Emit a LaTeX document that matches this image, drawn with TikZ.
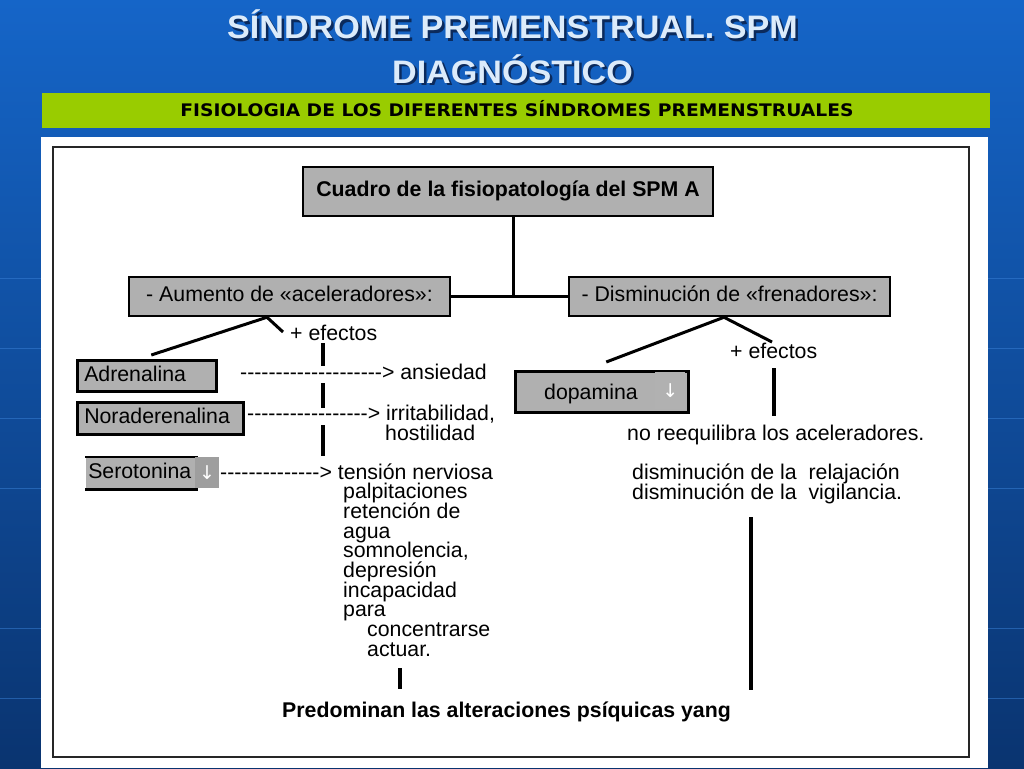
\documentclass[tikz,border=0pt]{standalone}
\usepackage{fontspec}
\setmainfont{Liberation Sans}
\newfontfamily\titlefont[FakeStretch=1.05]{Liberation Sans}
\newfontfamily\bandfont[FakeStretch=1.08]{DejaVu Sans}
\newfontfamily\arrowfont{DejaVu Sans}
\ExplSyntaxOn
\NewDocumentCommand\dashes{m}{\prg_replicate:nn{#1}{-\kern0pt}}
\ExplSyntaxOff
\definecolor{bgtop}{HTML}{1565C8}
\definecolor{bgbot}{HTML}{0A3470}
\definecolor{bgline}{HTML}{3A82D8}
\definecolor{band}{HTML}{99CC00}
\definecolor{titlefg}{HTML}{DCEBFA}
\definecolor{titlesh}{HTML}{0B2A5C}
\definecolor{boxgray}{HTML}{B0B0B0}
\definecolor{arrowgray}{HTML}{9E9E9E}
\tikzset{
  txt/.style={anchor=base west, inner sep=0pt, font=\fontsize{21.3}{19.7}\selectfont},
  graybox/.style={draw=black, line width=2.5pt, fill=boxgray, inner sep=0pt,
     text height=15.3pt, text depth=4.5pt, font=\fontsize{21.3}{19.7}\selectfont},
  link/.style={line width=3pt, black},
  bar/.style={line width=4pt, black},
  arrowsq/.style={fill=arrowgray, inner sep=0pt, text=white,
     font=\arrowfont\fontsize{19}{19}\selectfont},
}
\begin{document}
\begin{tikzpicture}[x=1pt,y=-1pt]
\useasboundingbox (0,0) rectangle (1024,768);
% background
\shade[top color=bgtop, bottom color=bgbot] (0,0) rectangle (1024,768);
\foreach \yy in {278,348,418,488,628,698}
  \draw[bgline, opacity=0.5, line width=1pt] (0,\yy) -- (1024,\yy);
% title
\foreach \dx/\col in {2.5/titlesh,0/titlefg}{
  \node[anchor=base, inner sep=0pt, text=\col, font=\titlefont\bfseries\fontsize{32.5}{32.5}\selectfont]
    at (512.5+\dx,39+\dx) {SÍNDROME PREMENSTRUAL. SPM};
  \node[anchor=base, inner sep=0pt, text=\col, font=\titlefont\bfseries\fontsize{32.5}{32.5}\selectfont]
    at (512.5+\dx,83+\dx) {DIAGNÓSTICO};
}
% green band
\fill[band] (42,93) rectangle (990,128);
\node (bandtxt) [anchor=base, inner sep=0pt, font=\bandfont\bfseries\fontsize{17.3}{17.3}\selectfont]
  at (517,116.5) {FISIOLOGIA DE LOS DIFERENTES SÍNDROMES PREMENSTRUALES};
% white panel and frame
\fill[white] (41,137) rectangle (988,768);
\draw[line width=2pt, black!85] (53,147) rectangle (969,757);
% main boxes
\node (cuadro) [graybox, minimum width=410pt, minimum height=49pt, font=\bfseries\fontsize{21.3}{19.7}\selectfont]
  at (508,191.5) {Cuadro de la fisiopatología del SPM A};
\node (aum) [graybox, minimum width=321pt, minimum height=39pt] at (289.5,296.5) {- Aumento de «aceleradores»:};
\node (dis) [graybox, minimum width=321pt, minimum height=39pt] at (729.5,296.5) {- Disminución de «frenadores»:};
\draw[link] ([xshift=5pt]cuadro.south) |- (aum.east);
\draw[link] (aum.east) -- (dis.west);
% left column boxes
\node (adr) [graybox, anchor=north west, minimum width=139pt, minimum height=31pt,
  text width=125pt, inner xsep=7pt, align=left] at (76,359) {Adrenalina};
\node (nor) [graybox, anchor=north west, minimum width=166pt, minimum height=32pt,
  text width=152pt, inner xsep=7pt, align=left] at (76,401) {Noraderenalina};
\node (sero) [graybox, draw=none, anchor=north west, minimum width=110pt, minimum height=30pt,
  text width=106pt, inner xsep=2pt, align=left] at (85,457) {Serotonina};
\draw[line width=2.5pt] (sero.north west) -- (sero.north east);
\draw[line width=2.5pt] (sero.south west) -- (sero.south east);
\node (seroar) [arrowsq, anchor=north west, minimum width=24pt, minimum height=31pt] at (195,457) {↓};
% left branch
\coordinate (jl) at ([xshift=-22.5pt]aum.south);
\coordinate (tL) at (283,332);
\draw[link] (jl) -- ([xshift=4.5pt,yshift=4pt]adr.north);
\draw[link] (jl) -- (tL);
\node (efL) [txt] at (290,340) {+ efectos};
\node (a1) [txt] at (240,379) {\dashes{20}> ansiedad};
\node (n1) [txt] at (247,420) {\dashes{17}> irritabilidad,};
\node (n2) [txt] at (385,440) {hostilidad};
\node (s1) [txt] at (220,479) {\dashes{14}> tensión nerviosa};
\foreach \t/\xx [count=\i from 1] in {palpitaciones/343, retención de/343, agua/343,
   {somnolencia,}/343, depresión/343, incapacidad/343, para/343, concentrarse/367, actuar./367}
  \node (l\i) [txt] at (\xx,479+19.7*\i) {\t};
\coordinate (b1a) at (323,343); \coordinate (b1b) at (323,366);
\coordinate (b2a) at (323,383); \coordinate (b2b) at (323,408);
\coordinate (b3a) at (323,425); \coordinate (b3b) at (323,456);
\coordinate (b4a) at (400,668); \coordinate (b4b) at (400,689);
\draw[bar] (b1a) -- (b1b);
\draw[bar] (b2a) -- (b2b);
\draw[bar] (b3a) -- (b3b);
\draw[bar] (b4a) -- (b4b);
% right column
\node (dop) [graybox, anchor=north west, minimum width=173pt, minimum height=41pt] at (514,370) {};
\node (dopar) [arrowsq, fill=arrowgray!80, anchor=north west, minimum width=30pt, minimum height=37pt] at (655,372) {↓};
\node (doptxt) [txt] at (544,399) {dopamina};
\coordinate (jr) at ([xshift=-5.5pt]dis.south);
\coordinate (tR) at (772,342);
\draw[link] (jr) -- ([xshift=4.5pt,yshift=8pt]dop.north);
\draw[link] (jr) -- (tR);
\node (efR) [txt] at (730,358) {+ efectos};
\coordinate (b5a) at (774,368); \coordinate (b5b) at (774,416);
\draw[bar] (b5a) -- (b5b);
\node (noreq) [txt] at (627,440) {no reequilibra los aceleradores.};
\node (dis1) [txt] at (632,479) {disminución de la\ \ relajación};
\node (dis2) [txt] at (632,499) {disminución de la\ \ vigilancia.};
\coordinate (b6a) at (751,517); \coordinate (b6b) at (751,690);
\draw[bar] (b6a) -- (b6b);
% conclusion
\node (pred) [txt, font=\bfseries\fontsize{21.3}{19.7}\selectfont] at (282,717) {Predominan las alteraciones psíquicas yang};
\end{tikzpicture}
\end{document}
